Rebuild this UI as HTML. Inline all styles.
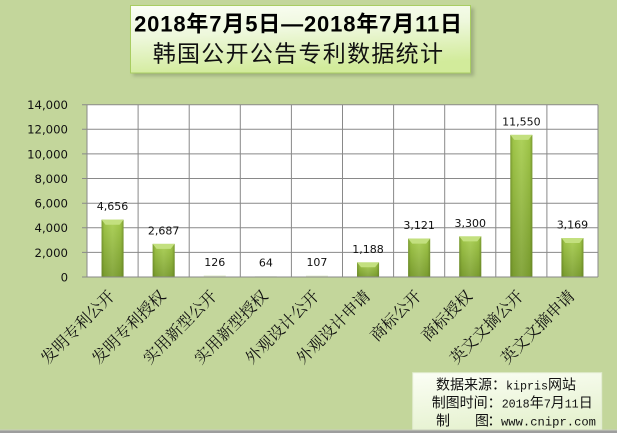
<!DOCTYPE html>
<html><head><meta charset="utf-8"><style>
html,body{margin:0;padding:0;background:#c3d69b;}
svg{display:block;}
</style></head><body>
<svg width="617" height="433" viewBox="0 0 617 433" xmlns="http://www.w3.org/2000/svg">
<defs>
  <linearGradient id="tg" x1="0" y1="0" x2="0.25" y2="1">
    <stop offset="0" stop-color="#fbfef6"/>
    <stop offset="0.45" stop-color="#eef8dc"/>
    <stop offset="1" stop-color="#d2eb9b"/>
  </linearGradient>
  <linearGradient id="sg" x1="0" y1="0" x2="0.3" y2="1">
    <stop offset="0" stop-color="#fbfef5"/>
    <stop offset="1" stop-color="#e6f2d0"/>
  </linearGradient>
  <linearGradient id="bv" x1="0" y1="0" x2="0" y2="1">
    <stop offset="0" stop-color="#a7ce4d"/>
    <stop offset="1" stop-color="#7c9f30"/>
  </linearGradient>
  <linearGradient id="bh" x1="0" y1="0" x2="1" y2="0">
    <stop offset="0" stop-color="#556f1c" stop-opacity="0.55"/>
    <stop offset="0.12" stop-color="#556f1c" stop-opacity="0.1"/>
    <stop offset="0.5" stop-color="#ffffff" stop-opacity="0.08"/>
    <stop offset="0.88" stop-color="#556f1c" stop-opacity="0.1"/>
    <stop offset="1" stop-color="#556f1c" stop-opacity="0.55"/>
  </linearGradient>
  <filter id="sh" x="-10%" y="-10%" width="120%" height="130%">
    <feGaussianBlur stdDeviation="1.8"/>
  </filter>
</defs>

<rect x="0" y="0" width="617" height="433" fill="#c3d69b"/>

<!-- Title box -->
<rect x="133" y="8" width="341" height="68" fill="#7f8c68" opacity="0.55" filter="url(#sh)"/>
<rect x="130.5" y="5.5" width="340" height="67.5" fill="url(#tg)" stroke="#a9cd62" stroke-width="1"/>
<text x="298.5" y="31.7" text-anchor="middle" font-family="'Liberation Sans','Noto Sans CJK SC',sans-serif" font-size="22" font-weight="bold" letter-spacing="0.85" fill="#000">2018年7月5日—2018年7月11日</text>
<text x="298.5" y="61.5" text-anchor="middle" font-family="'Noto Sans CJK SC','WenQuanYi Zen Hei',sans-serif" font-size="23" letter-spacing="1.3" fill="#111">韩国公开公告专利数据统计</text>

<!-- Plot area -->
<rect x="87" y="104.7" width="511" height="172.3" fill="#ffffff"/>
<g stroke="#898989" stroke-width="1" fill="none">
  <line x1="82" y1="104.7" x2="598" y2="104.7"/>
  <line x1="82" y1="129.3" x2="598" y2="129.3"/>
  <line x1="82" y1="153.9" x2="598" y2="153.9"/>
  <line x1="82" y1="178.5" x2="598" y2="178.5"/>
  <line x1="82" y1="203.2" x2="598" y2="203.2"/>
  <line x1="82" y1="227.8" x2="598" y2="227.8"/>
  <line x1="82" y1="252.4" x2="598" y2="252.4"/>
  <line x1="87" y1="104.7" x2="87" y2="277"/>
  <line x1="138.1" y1="104.7" x2="138.1" y2="277"/>
  <line x1="189.2" y1="104.7" x2="189.2" y2="277"/>
  <line x1="240.3" y1="104.7" x2="240.3" y2="277"/>
  <line x1="291.4" y1="104.7" x2="291.4" y2="277"/>
  <line x1="342.5" y1="104.7" x2="342.5" y2="277"/>
  <line x1="393.6" y1="104.7" x2="393.6" y2="277"/>
  <line x1="444.7" y1="104.7" x2="444.7" y2="277"/>
  <line x1="495.8" y1="104.7" x2="495.8" y2="277"/>
  <line x1="546.9" y1="104.7" x2="546.9" y2="277"/>
  <line x1="598" y1="104.7" x2="598" y2="277"/>
</g>

<!-- Bars -->
<g>
  <!-- 1: 4656 -->
  <rect x="101.55" y="219.7" width="22" height="57.3" fill="url(#bv)"/>
  <rect x="101.55" y="219.7" width="22" height="57.3" fill="url(#bh)"/>
  <polygon points="101.55,219.7 123.55,219.7 119.55,224.7 105.55,224.7" fill="#c3e07f"/>
  <!-- 2: 2687 -->
  <rect x="152.65" y="243.9" width="22" height="33.1" fill="url(#bv)"/>
  <rect x="152.65" y="243.9" width="22" height="33.1" fill="url(#bh)"/>
  <polygon points="152.65,243.9 174.65,243.9 170.65,248.9 156.65,248.9" fill="#c3e07f"/>
  <!-- 3: 126 -->
  <rect x="203.75" y="275.4" width="22" height="1.6" fill="#e2ecd0"/>
  <!-- 4: 64 -->
  <rect x="254.85" y="276.2" width="22" height="0.8" fill="#e6eed8"/>
  <!-- 5: 107 -->
  <rect x="305.95" y="275.6" width="22" height="1.4" fill="#e2ecd0"/>
  <!-- 6: 1188 -->
  <rect x="357.05" y="262.4" width="22" height="14.6" fill="url(#bv)"/>
  <rect x="357.05" y="262.4" width="22" height="14.6" fill="url(#bh)"/>
  <polygon points="357.05,262.4 379.05,262.4 375.05,267.2 361.05,267.2" fill="#c3e07f"/>
  <!-- 7: 3121 -->
  <rect x="408.15" y="238.6" width="22" height="38.4" fill="url(#bv)"/>
  <rect x="408.15" y="238.6" width="22" height="38.4" fill="url(#bh)"/>
  <polygon points="408.15,238.6 430.15,238.6 426.15,243.6 412.15,243.6" fill="#c3e07f"/>
  <!-- 8: 3300 -->
  <rect x="459.25" y="236.4" width="22" height="40.6" fill="url(#bv)"/>
  <rect x="459.25" y="236.4" width="22" height="40.6" fill="url(#bh)"/>
  <polygon points="459.25,236.4 481.25,236.4 477.25,241.4 463.25,241.4" fill="#c3e07f"/>
  <!-- 9: 11550 -->
  <rect x="510.35" y="134.9" width="22" height="142.1" fill="url(#bv)"/>
  <rect x="510.35" y="134.9" width="22" height="142.1" fill="url(#bh)"/>
  <polygon points="510.35,134.9 532.35,134.9 528.35,139.9 514.35,139.9" fill="#c3e07f"/>
  <!-- 10: 3169 -->
  <rect x="561.45" y="238.0" width="22" height="39.0" fill="url(#bv)"/>
  <rect x="561.45" y="238.0" width="22" height="39.0" fill="url(#bh)"/>
  <polygon points="561.45,238.0 583.45,238.0 579.45,243.0 565.45,243.0" fill="#c3e07f"/>
</g>

<line x1="82" y1="277" x2="598" y2="277" stroke="#898989" stroke-width="1"/>

<!-- Value labels -->
<g font-family="'DejaVu Sans','Liberation Sans',sans-serif" font-size="11" fill="#111" text-anchor="middle">
  <text x="112.55" y="210.2">4,656</text>
  <text x="163.65" y="234.4">2,687</text>
  <text x="214.75" y="266.0">126</text>
  <text x="265.85" y="266.7">64</text>
  <text x="316.95" y="266.2">107</text>
  <text x="368.05" y="252.9">1,188</text>
  <text x="419.15" y="229.1">3,121</text>
  <text x="470.25" y="226.9">3,300</text>
  <text x="521.35" y="125.4">11,550</text>
  <text x="572.45" y="228.5">3,169</text>
</g>

<!-- Y axis labels -->
<g font-family="'DejaVu Sans','Liberation Sans',sans-serif" font-size="11.7" fill="#111" text-anchor="end">
  <text x="68" y="109.1">14,000</text>
  <text x="68" y="133.7">12,000</text>
  <text x="68" y="158.3">10,000</text>
  <text x="68" y="182.9">8,000</text>
  <text x="68" y="207.6">6,000</text>
  <text x="68" y="232.2">4,000</text>
  <text x="68" y="256.8">2,000</text>
  <text x="68" y="281.4">0</text>
</g>

<!-- X axis labels -->
<g font-family="'Noto Serif CJK SC','Noto Sans CJK SC',serif" font-size="16" fill="#111" text-anchor="end">
  <text x="115.55" y="297" transform="rotate(-45 115.55 297)">发明专利公开</text>
  <text x="166.65" y="297" transform="rotate(-45 166.65 297)">发明专利授权</text>
  <text x="217.75" y="297" transform="rotate(-45 217.75 297)">实用新型公开</text>
  <text x="268.85" y="297" transform="rotate(-45 268.85 297)">实用新型授权</text>
  <text x="319.95" y="297" transform="rotate(-45 319.95 297)">外观设计公开</text>
  <text x="371.05" y="297" transform="rotate(-45 371.05 297)">外观设计申请</text>
  <text x="422.15" y="297" transform="rotate(-45 422.15 297)">商标公开</text>
  <text x="473.25" y="297" transform="rotate(-45 473.25 297)">商标授权</text>
  <text x="524.35" y="297" transform="rotate(-45 524.35 297)">英文文摘公开</text>
  <text x="575.45" y="297" transform="rotate(-45 575.45 297)">英文文摘申请</text>
</g>

<!-- Source box -->
<rect x="412.7" y="372.7" width="189" height="58" fill="url(#sg)" stroke="#e2ecd0" stroke-width="1"/>
<g fill="#111">
  <text y="389.3" font-family="'Noto Sans CJK SC','WenQuanYi Zen Hei',sans-serif" font-size="14"><tspan x="436">数据来源：</tspan></text>
  <text x="506" y="389.3" font-family="'Liberation Mono',monospace" font-size="12" textLength="42" lengthAdjust="spacingAndGlyphs">kipris</text>
  <text x="548" y="389.3" font-family="'Noto Sans CJK SC','WenQuanYi Zen Hei',sans-serif" font-size="14">网站</text>

  <text x="431.7" y="407.5" font-family="'Noto Sans CJK SC','WenQuanYi Zen Hei',sans-serif" font-size="14">制图时间：</text>
  <text x="501.7" y="407.5" font-family="'Liberation Mono',monospace" font-size="12" textLength="28" lengthAdjust="spacingAndGlyphs">2018</text>
  <text x="529.7" y="407.5" font-family="'Noto Sans CJK SC','WenQuanYi Zen Hei',sans-serif" font-size="14">年</text>
  <text x="543.7" y="407.5" font-family="'Liberation Mono',monospace" font-size="12">7</text>
  <text x="550.7" y="407.5" font-family="'Noto Sans CJK SC','WenQuanYi Zen Hei',sans-serif" font-size="14">月</text>
  <text x="564.7" y="407.5" font-family="'Liberation Mono',monospace" font-size="12" textLength="14" lengthAdjust="spacingAndGlyphs">11</text>
  <text x="578.7" y="407.5" font-family="'Noto Sans CJK SC','WenQuanYi Zen Hei',sans-serif" font-size="14">日</text>

  <text x="436" y="425.3" font-family="'Noto Sans CJK SC','WenQuanYi Zen Hei',sans-serif" font-size="14">制</text>
  <text x="475" y="425.3" font-family="'Noto Sans CJK SC','WenQuanYi Zen Hei',sans-serif" font-size="14">图</text>
  <text x="487.5" y="425.3" font-family="'Noto Sans CJK SC','WenQuanYi Zen Hei',sans-serif" font-size="14">：</text>
  <text x="501" y="425.3" font-family="'Liberation Mono',monospace" font-size="12" textLength="95" lengthAdjust="spacingAndGlyphs">www.cnipr.com</text>
</g>

<!-- bottom strip -->
<rect x="0" y="429.5" width="617" height="1" fill="#c9cfbd"/>
<rect x="0" y="430.5" width="617" height="2.5" fill="#9d9d9d"/>
</svg>
</body></html>
